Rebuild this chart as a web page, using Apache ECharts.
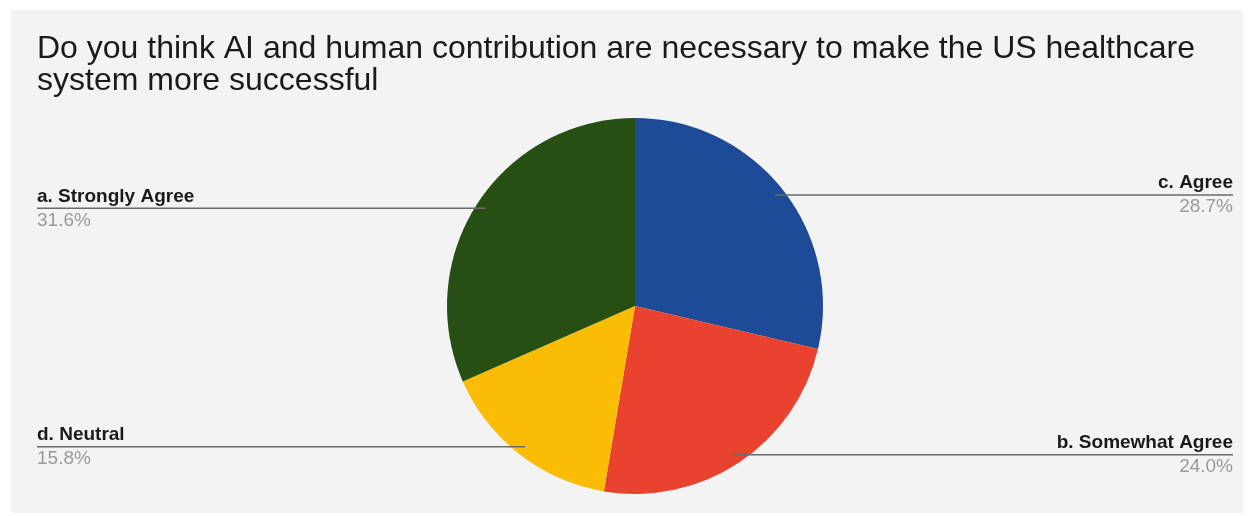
<!DOCTYPE html>
<html>
<head>
<meta charset="utf-8">
<script src="https://cdn.jsdelivr.net/npm/echarts@6/dist/echarts.min.js"></script>
<style>
html,body{margin:0;padding:0;background:#ffffff;}
#chart{width:1254px;height:516px;}
</style>
</head>
<body>
<div id="chart"></div>
<script>
const titleText = 'Do you think AI and human contribution are necessary to make the US healthcare\nsystem more successful';
const categories = ['c. Agree', 'b. Somewhat Agree', 'd. Neutral', 'a. Strongly Agree'];
const values = [28.7, 24.0, 15.8, 31.6];
const colors = ['#1d4b98', '#e9432f', '#fbbc04', '#274e13'];

const R = 188;
const FONT = 'Liberation Sans, Arial, sans-serif';
const chart = echarts.init(document.getElementById('chart'), null, {renderer: 'canvas'});

function layoutLabel(params) {
  const pts = params.labelLinePoints;
  if (!pts) return {};
  const p0 = pts[0], p1 = pts[1];
  let dx = p1[0] - p0[0], dy = p1[1] - p0[1];
  const len = Math.sqrt(dx * dx + dy * dy) || 1;
  dx /= len; dy /= len;
  const dotX = p0[0] - 0.05 * R * dx;
  const dotY = p0[1] - 0.05 * R * dy;
  const left = dx < 0;
  const edgeX = left ? 37 : 1233;
  return {
    x: edgeX,
    y: dotY,
    align: left ? 'left' : 'right',
    verticalAlign: 'middle',
    labelLinePoints: [[dotX, dotY], [dotX, dotY], [edgeX, dotY]]
  };
}

const pieBase = {
  type: 'pie',
  center: [635, 306],
  radius: [0, R],
  startAngle: 90,
  clockwise: true,
  avoidLabelOverlap: false,
  silent: true,
  emphasis: {disabled: true}
};

const option = {
  backgroundColor: '#ffffff',
  animation: false,
  graphic: [{
    type: 'rect', z: -10, silent: true,
    shape: {x: 11, y: 10, width: 1232, height: 503},
    style: {fill: '#f3f3f3'}
  }],
  title: {
    text: titleText,
    left: 37, top: 33, padding: 0,
    textStyle: {
      fontFamily: FONT,
      fontSize: 32, fontWeight: 'normal', color: '#1a1a1a', lineHeight: 32
    }
  },
  series: [
    Object.assign({}, pieBase, {
      z: 2,
      data: categories.map((c, i) => ({name: c, value: values[i], itemStyle: {color: colors[i]}})),
      label: {show: false},
      labelLine: {show: false}
    }),
    Object.assign({}, pieBase, {
      z: 5,
      data: categories.map((c, i) => ({name: c, value: values[i]})),
      itemStyle: {color: 'rgba(0,0,0,0)', borderWidth: 0},
      label: {
        show: true,
        position: 'outside',
        formatter: p => '{n|' + p.name + '}\n{p|' + p.value.toFixed(1) + '%}',
        rich: {
          n: {fontFamily: FONT, fontSize: 19, fontWeight: 'bold', color: '#1a1a1a', lineHeight: 24},
          p: {fontFamily: FONT, fontSize: 19, color: '#9a9a9a', lineHeight: 24}
        }
      },
      labelLine: {
        show: true, length: 10, length2: 10, smooth: false,
        lineStyle: {color: '#6a6a6a', width: 1.5}
      },
      labelLayout: layoutLabel
    })
  ]
};
chart.setOption(option);
</script>
</body>
</html>
